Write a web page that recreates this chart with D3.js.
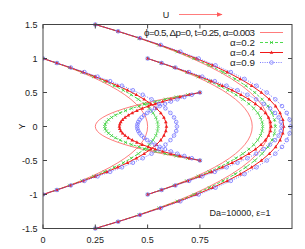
<!DOCTYPE html>
<html>
<head>
  <meta charset="utf-8">
  <title>Velocity profiles</title>
  <script src="https://d3js.org/d3.v7.min.js"></script>
  <style>
    body { margin: 0; background: #fff; }
    text { font-family: "Liberation Sans", Arial, sans-serif; font-size: 9px; fill: #222; }
    .leg text { font-size: 9.8px; }
  </style>
</head>
<body>
<script>
// stations along the channel and their half widths
var stations = [0, 0.25, 0.5, 0.75];
var halfWidths = [1, 1.5, 1, 0.5];
var alphaLabels = ["\u03d5=0.5, \u0394p=0, t=0.25, \u03b1=0.003", "\u03b1=0.2", "\u03b1=0.4", "\u03b1=0.9"];
var xTicks = [0, 0.25, 0.5, 0.75];
var yTicks = [-1.5, -1, -0.5, 0, 0.5, 1, 1.5];

// U at |y|/h = 0, 1/15, ... 1 (profile is symmetric)
// h = 1 (stations 0 and 0.5)
var uH1 = [
  [0.5, 0.4978, 0.4911, 0.48, 0.4644, 0.4444, 0.42, 0.3911, 0.3578, 0.32, 0.2778, 0.2311, 0.18, 0.1244, 0.0644, 0],
  [0.55, 0.5473, 0.5393, 0.5261, 0.5076, 0.484, 0.4553, 0.4217, 0.3834, 0.3405, 0.2932, 0.2418, 0.1865, 0.1275, 0.0653, 0],
  [0.59, 0.587, 0.5779, 0.5629, 0.5421, 0.5155, 0.4835, 0.4462, 0.4039, 0.3569, 0.3056, 0.2503, 0.1917, 0.13, 0.0659, 0],
  [0.64, 0.6366, 0.6262, 0.609, 0.5852, 0.555, 0.5188, 0.4768, 0.4295, 0.3773, 0.321, 0.261, 0.1981, 0.1331, 0.0668, 0]
];
// h = 1.5 (station 0.25)
var uH15 = [
  [0.8333, 0.8296, 0.8185, 0.8, 0.7741, 0.7407, 0.7, 0.6518, 0.5963, 0.5333, 0.463, 0.3852, 0.3, 0.2074, 0.1074, 0],
  [0.8603, 0.8564, 0.8445, 0.8249, 0.7974, 0.762, 0.7191, 0.6683, 0.6101, 0.5444, 0.4713, 0.391, 0.3035, 0.2091, 0.1078, 0],
  [0.9003, 0.896, 0.8831, 0.8617, 0.8319, 0.7936, 0.7473, 0.6928, 0.6306, 0.5607, 0.4837, 0.3995, 0.3087, 0.2116, 0.1085, 0],
  [0.9333, 0.9287, 0.915, 0.8922, 0.8604, 0.8197, 0.7706, 0.713, 0.6475, 0.5743, 0.4939, 0.4066, 0.313, 0.2136, 0.1091, 0]
];
// h = 0.5 (station 0.75)
var uH05 = [
  [-0.5, -0.4978, -0.4911, -0.48, -0.4644, -0.4444, -0.42, -0.3911, -0.3578, -0.32, -0.2778, -0.2311, -0.18, -0.1244, -0.0644, 0],
  [-0.455, -0.453, -0.4469, -0.4368, -0.4226, -0.4044, -0.3822, -0.3559, -0.3256, -0.2912, -0.2528, -0.2103, -0.1638, -0.1132, -0.0586, 0],
  [-0.385, -0.3833, -0.3782, -0.3696, -0.3576, -0.3422, -0.3234, -0.3012, -0.2755, -0.2464, -0.2139, -0.178, -0.1386, -0.0958, -0.0496, 0],
  [-0.3, -0.2987, -0.2947, -0.288, -0.2787, -0.2667, -0.252, -0.2347, -0.2147, -0.192, -0.1667, -0.1387, -0.108, -0.0747, -0.0387, 0]
];
var profiles = [uH1, uH15, uH1, uH05];

var W = 305, H = 249;
var m = {left: 43, top: 24.5, right: 292, bottom: 228.5};

var x = d3.scaleLinear().domain([0, 1.19]).range([m.left, m.right]);
var y = d3.scaleLinear().domain([-1.5, 1.5]).range([m.bottom, m.top]);

var styles = [
  {color: "#ff5a5a", mcolor: null, dash: null, width: 0.8, marker: null},
  {color: "#22d022", mcolor: "#33cc33", dash: "3,2", width: 0.8, marker: "x"},
  {color: "#f01818", mcolor: "#f02020", dash: null, width: 1, marker: "tri"},
  {color: "#5a5aff", mcolor: "#7070ff", dash: "1,1.3", width: 0.8, marker: "circle"}
];

var svg = d3.select("body").append("svg").attr("width", W).attr("height", H);

// build the points of each curve: full profile from -h to h
function curvePoints(si, ai) {
  var half = profiles[si][ai], h = halfWidths[si], pts = [];
  for (var i = 0; i <= 30; i++) {
    var j = Math.abs(i - 15);
    pts.push({u: stations[si] + half[j], y: h * (i - 15) / 15});
  }
  return pts;
}

var line = d3.line().x(function(d) { return x(d.u); }).y(function(d) { return y(d.y); });

function drawMarker(g, type, cx, cy, color) {
  if (type == "x") {
    g.append("path").attr("d", "M" + (cx - 1.6) + "," + (cy - 1.6) + "L" + (cx + 1.6) + "," + (cy + 1.6) +
      "M" + (cx - 1.6) + "," + (cy + 1.6) + "L" + (cx + 1.6) + "," + (cy - 1.6))
      .attr("stroke", color).attr("stroke-width", 0.7).attr("fill", "none");
  } else if (type == "tri") {
    g.append("path").attr("d", "M" + cx + "," + (cy - 2) + "L" + (cx + 1.8) + "," + (cy + 1.3) + "L" + (cx - 1.8) + "," + (cy + 1.3) + "Z")
      .attr("fill", color);
  } else if (type == "circle") {
    g.append("circle").attr("cx", cx).attr("cy", cy).attr("r", 1.8)
      .attr("fill", "none").attr("stroke", color).attr("stroke-width", 0.75);
  }
}

var plot = svg.append("g");
svg.append("clipPath").attr("id", "clip").append("rect")
  .attr("x", m.left).attr("y", m.top - 3).attr("width", m.right - m.left + 3).attr("height", m.bottom - m.top + 6);
plot.attr("clip-path", "url(#clip)");

for (var ai = 0; ai < 4; ai++) {
  var st = styles[ai];
  for (var si = 0; si < 4; si++) {
    var pts = curvePoints(si, ai);
    plot.append("path").attr("d", line(pts))
      .attr("fill", "none").attr("stroke", st.color).attr("stroke-width", st.width)
      .attr("stroke-dasharray", st.dash);
    if (st.marker) {
      pts.forEach(function(d) { drawMarker(plot, st.marker, x(d.u), y(d.y), st.mcolor); });
    }
  }
}

// frame
svg.append("rect").attr("x", m.left).attr("y", m.top).attr("width", m.right - m.left).attr("height", m.bottom - m.top)
  .attr("fill", "none").attr("stroke", "#444").attr("stroke-width", 1);

// ticks (inward, mirrored) and labels
xTicks.forEach(function(t) {
  svg.append("line").attr("x1", x(t)).attr("x2", x(t)).attr("y1", m.bottom).attr("y2", m.bottom - 4).attr("stroke", "#444");
  svg.append("line").attr("x1", x(t)).attr("x2", x(t)).attr("y1", m.top).attr("y2", m.top + 4).attr("stroke", "#444");
  svg.append("text").attr("x", x(t)).attr("y", 243).attr("text-anchor", "middle").text(t);
});
yTicks.forEach(function(t) {
  svg.append("line").attr("x1", m.left).attr("x2", m.left + 4).attr("y1", y(t)).attr("y2", y(t)).attr("stroke", "#444");
  svg.append("line").attr("x1", m.right).attr("x2", m.right - 4).attr("y1", y(t)).attr("y2", y(t)).attr("stroke", "#444");
  svg.append("text").attr("x", 37.5).attr("y", y(t) + 3.2).attr("text-anchor", "end").text(t);
});

// axis titles
svg.append("text").attr("transform", "translate(25," + y(0) + ") rotate(-90)").attr("text-anchor", "middle").text("Y");
svg.append("text").attr("x", 166).attr("y", 18).attr("text-anchor", "middle").style("fill", "#222").text("U");
svg.append("defs").append("marker").attr("id", "arr").attr("viewBox", "0 0 10 10").attr("refX", 9).attr("refY", 5)
  .attr("markerWidth", 7).attr("markerHeight", 7).attr("orient", "auto")
  .append("path").attr("d", "M0,1L10,5L0,9Z").attr("fill", "#ff5a5a");
svg.append("line").attr("x1", 179).attr("x2", 222).attr("y1", 14.5).attr("y2", 14.5)
  .attr("stroke", "#ff5a5a").attr("stroke-width", 0.8).attr("marker-end", "url(#arr)");

svg.append("text").attr("x", 240).attr("y", 215.5).attr("text-anchor", "middle").text("Da=10000, \u03b5=1");

// legend
var leg = svg.append("g").attr("class", "leg");
alphaLabels.forEach(function(lbl, i) {
  var ly = 32.5 + i * 10, st = styles[i];
  var t = leg.append("text").attr("x", 255).attr("y", ly + 3.4).attr("text-anchor", "end").text(lbl);
  if (i == 0) t.attr("textLength", 111).attr("lengthAdjust", "spacing");
  leg.append("line").attr("x1", 260).attr("x2", 283).attr("y1", ly).attr("y2", ly)
    .attr("stroke", st.color).attr("stroke-width", st.width).attr("stroke-dasharray", st.dash);
  if (st.marker) drawMarker(leg, st.marker, 271.5, ly, st.mcolor);
});
</script>
</body>
</html>
